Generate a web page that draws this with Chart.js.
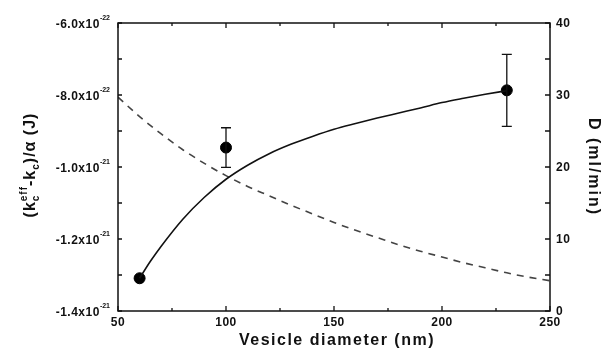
<!DOCTYPE html>
<html>
<head>
<meta charset="utf-8">
<script src="https://cdn.jsdelivr.net/npm/chart.js@4.4.0/dist/chart.umd.min.js"></script>
<style>
  html, body { margin: 0; padding: 0; background: #fff; }
</style>
</head>
<body>
<canvas id="chart" width="603" height="355"></canvas>
<script>
// measured points: vesicle diameter (nm) vs (kc_eff - kc)/alpha (J)
const pointX = [60, 100, 230];
const pointY = [-1.309e-21, -9.46e-22, -7.87e-22];
const pointErr = [0, 0.55e-22, 1.0e-22];

// solid fit curve, left axis
const fitX = [60, 65, 70, 80, 90, 100, 110, 120, 130, 140, 150, 160, 170, 180, 190, 200, 210, 220, 230];
const fitY = [-13.09e-22, -12.62e-22, -12.20e-22, -11.45e-22, -10.84e-22, -10.34e-22, -9.95e-22,
              -9.63e-22, -9.37e-22, -9.15e-22, -8.95e-22, -8.79e-22, -8.64e-22, -8.50e-22,
              -8.36e-22, -8.21e-22, -8.09e-22, -7.98e-22, -7.88e-22];

// dashed curve, D on the right axis
const dX = [50, 60, 70, 80, 90, 100, 110, 120, 130, 140, 150, 160, 170, 180, 190, 200, 210, 220, 230, 240, 250];
const dY = [29.7, 27.0, 24.6, 22.4, 20.5, 18.8, 17.3, 16.0, 14.7, 13.5, 12.3, 11.2, 10.2, 9.2, 8.3, 7.5, 6.7, 6.0, 5.3, 4.7, 4.2];

// tick labels
const xTicks = [50, 100, 150, 200, 250];
const leftTicks = [-6.0e-22, -8.0e-22, -1.0e-21, -1.2e-21, -1.4e-21];
const leftTickText = ['-6.0x10', '-8.0x10', '-1.0x10', '-1.2x10', '-1.4x10'];
const leftTickExp = ['-22', '-22', '-21', '-21', '-21'];
const rightTicks = [0, 10, 20, 30, 40];

const FONT = '"Liberation Sans", Arial, sans-serif';

// draws the box, inward ticks, labels, titles and error bars
const framePlugin = {
    id: 'frame',
    afterDatasetsDraw(chart) {
        const { ctx, chartArea: a, scales } = chart;
        const x = scales.x, yl = scales.y, yr = scales.y2;
        ctx.save();
        ctx.strokeStyle = '#111';
        ctx.fillStyle = '#111';

        // error bars
        ctx.lineWidth = 1.3;
        pointX.forEach((v, i) => {
            if (!pointErr[i]) return;
            const px = x.getPixelForValue(v);
            const top = yl.getPixelForValue(pointY[i] + pointErr[i]);
            const bot = yl.getPixelForValue(pointY[i] - pointErr[i]);
            ctx.beginPath();
            ctx.moveTo(px, top); ctx.lineTo(px, bot);
            ctx.moveTo(px - 5, top); ctx.lineTo(px + 5, top);
            ctx.moveTo(px - 5, bot); ctx.lineTo(px + 5, bot);
            ctx.stroke();
        });

        // frame
        ctx.lineWidth = 1.5;
        ctx.strokeRect(a.left, a.top, a.right - a.left, a.bottom - a.top);

        // inward tick marks
        ctx.lineWidth = 1.3;
        ctx.beginPath();
        x.ticks.forEach(t => {
            const px = x.getPixelForValue(t.value);
            const len = xTicks.includes(t.value) ? 5 : 3;
            ctx.moveTo(px, a.bottom); ctx.lineTo(px, a.bottom - len);
            ctx.moveTo(px, a.top); ctx.lineTo(px, a.top + len);
        });
        yl.ticks.forEach(t => {
            const py = yl.getPixelForValue(t.value);
            ctx.moveTo(a.left, py); ctx.lineTo(a.left + 4, py);
        });
        yr.ticks.forEach(t => {
            const py = yr.getPixelForValue(t.value);
            ctx.moveTo(a.right, py); ctx.lineTo(a.right - 5, py);
        });
        ctx.stroke();

        // x tick labels
        ctx.font = 'bold 12px ' + FONT;
        ctx.letterSpacing = '0.5px';
        ctx.textAlign = 'center';
        ctx.textBaseline = 'top';
        xTicks.forEach(v => ctx.fillText(String(v), x.getPixelForValue(v), a.bottom + 6));

        // right tick labels
        ctx.textAlign = 'left';
        ctx.textBaseline = 'middle';
        rightTicks.forEach(v => ctx.fillText(String(v), a.right + 6, yr.getPixelForValue(v) + 1));

        // left tick labels with exponent
        leftTicks.forEach((v, i) => {
            const py = yl.getPixelForValue(v);
            ctx.font = 'bold 7px ' + FONT;
            ctx.letterSpacing = '0px';
            const ew = ctx.measureText(leftTickExp[i]).width;
            ctx.textAlign = 'right';
            ctx.textBaseline = 'alphabetic';
            ctx.fillText(leftTickExp[i], a.left - 8, py - 3);
            ctx.font = 'bold 12px ' + FONT;
            ctx.letterSpacing = '0.5px';
            ctx.textBaseline = 'middle';
            ctx.fillText(leftTickText[i], a.left - 8 - ew, py + 2);
        });

        // x title
        ctx.font = 'bold 16px ' + FONT;
        ctx.letterSpacing = '1.5px';
        ctx.textAlign = 'center';
        ctx.textBaseline = 'middle';
        ctx.fillText('Vesicle diameter (nm)', (a.left + a.right) / 2 + 3, 341);

        // right title
        ctx.save();
        ctx.translate(593, 167);
        ctx.rotate(Math.PI / 2);
        ctx.letterSpacing = '2px';
        ctx.fillText('D (ml/min)', 0, 0);
        ctx.restore();

        // left title with sub/superscripts
        ctx.save();
        ctx.translate(30, 165);
        ctx.rotate(-Math.PI / 2);
        ctx.textAlign = 'left';
        ctx.textBaseline = 'alphabetic';
        const big = 'bold 16px ' + FONT, small = 'bold 10px ' + FONT;
        const parts = [
            { t: '(k', f: big, dy: 0 },
            { stack: [{ t: 'eff', f: small, dy: -8 }, { t: 'c', f: small, dy: 4 }] },
            { t: '-k', f: big, dy: 0 },
            { t: 'c', f: small, dy: 4 },
            { t: ')/\u03b1 (J)', f: big, dy: 0 }
        ];
        ctx.letterSpacing = '1px';
        const width = p => {
            if (p.stack) return Math.max(...p.stack.map(width));
            ctx.font = p.f;
            return ctx.measureText(p.t).width;
        };
        const total = parts.reduce((s, p) => s + width(p), 0);
        let cx = -total / 2;
        parts.forEach(p => {
            const w = width(p);
            (p.stack || [p]).forEach(q => {
                ctx.font = q.f;
                ctx.fillText(q.t, cx, 5 + q.dy);
            });
            cx += w;
        });
        ctx.restore();

        ctx.restore();
    }
};

new Chart(document.getElementById('chart'), {
    type: 'scatter',
    data: {
        datasets: [
            {
                label: 'fit',
                data: fitX.map((v, i) => ({ x: v, y: fitY[i] })),
                yAxisID: 'y',
                showLine: true,
                borderColor: '#111',
                borderWidth: 1.6,
                pointRadius: 0,
                cubicInterpolationMode: 'monotone'
            },
            {
                label: 'D',
                data: dX.map((v, i) => ({ x: v, y: dY[i] })),
                yAxisID: 'y2',
                showLine: true,
                borderColor: '#444',
                borderWidth: 1.6,
                borderDash: [7, 6],
                pointRadius: 0,
                cubicInterpolationMode: 'monotone'
            },
            {
                label: 'measured',
                data: pointX.map((v, i) => ({ x: v, y: pointY[i] })),
                yAxisID: 'y',
                showLine: false,
                pointRadius: 5.5,
                pointBackgroundColor: '#000',
                pointBorderColor: '#000'
            }
        ]
    },
    options: {
        responsive: false,
        animation: false,
        layout: { padding: { left: 118, right: 53, top: 23, bottom: 44 } },
        plugins: { legend: { display: false }, tooltip: { enabled: false } },
        scales: {
            x: { type: 'linear', display: false, min: 50, max: 250, ticks: { stepSize: 25 } },
            y: { type: 'linear', display: false, min: -1.4e-21, max: -6e-22, ticks: { stepSize: 1e-22 } },
            y2: { type: 'linear', display: false, position: 'right', min: 0, max: 40, ticks: { stepSize: 5 } }
        }
    },
    plugins: [framePlugin]
});
</script>
</body>
</html>
